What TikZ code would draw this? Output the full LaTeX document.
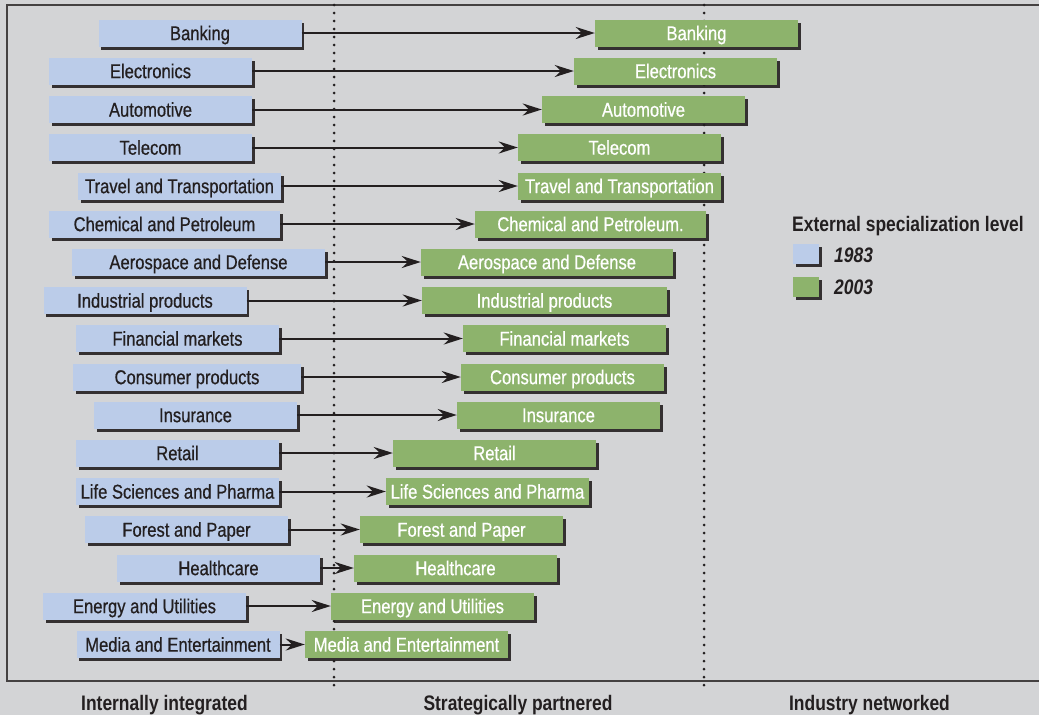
\documentclass[tikz,border=0pt]{standalone}
\usepackage{fontspec}
\setmainfont{Liberation Sans}[FakeStretch=0.83]
\newfontfamily\boxfont{Liberation Sans}[FakeStretch=0.83, FakeBold=0.6]
\usetikzlibrary{arrows.meta,
                graphs,
                shadows}
\definecolor{panel}{HTML}{D3D4D6}
\definecolor{ink}{HTML}{231F20}
\definecolor{oldblue}{HTML}{BBCCE9}
\definecolor{newgreen}{HTML}{8DB36C}
\tikzset{
  box/.style={rectangle, inner sep=0pt, minimum width=203pt, minimum height=27pt,
              text height=14.3pt, text depth=0pt, font=\boxfont\fontsize{20}{22}\selectfont,
              drop shadow={shadow xshift=2.5pt, shadow yshift=-3pt, fill=ink, opacity=0.9}},
  old/.style={box, fill=oldblue, text=ink},
  new/.style={box, fill=newgreen, text=white},
  key/.style={rectangle, inner sep=0pt, minimum width=26pt, minimum height=20pt,
              drop shadow={shadow xshift=2.5pt, shadow yshift=-3pt, fill=ink, opacity=0.9}},
  heading/.style={inner sep=0pt, text=ink, text height=15pt, text depth=0pt,
                  font=\bfseries\fontsize{21}{24}\selectfont},
  divider/.style={ink, line width=3pt, line cap=round, dash pattern=on 0pt off 8pt},
  frame/.style={draw=ink!85, line width=1.2pt}
}

\begin{document}
\begin{tikzpicture}[x=1pt, y=-1pt, >={Stealth[length=19pt,width=12pt,inset=6pt]}]
 \fill[panel] (0,0) rectangle (1039,715);
 \useasboundingbox (0,0) rectangle (1039,715);
 \draw[frame] (1040,5) -- (7,5) -- (7,681) -- (1040,681);
 \draw[divider] (334,5) -- (334,687);
 \draw[divider] (704,5) -- (704,687);

 \graph [no placement, edges={ink, line width=2pt}]
   {
     bank83/Banking [old, at={(200,33)}] -> bank03/Banking [new, at={(696.5,33)}];
     elec83/Electronics [old, at={(150.5,71)}] -> elec03/Electronics [new, at={(675.5,71)}];
     auto83/Automotive [old, at={(150.5,109.5)}] -> auto03/Automotive [new, at={(643.5,109.5)}];
     tele83/Telecom [old, at={(150.5,147.5)}] -> tele03/Telecom [new, at={(619.5,147.5)}];
     trav83/Travel and Transportation [old, at={(179.5,186)}]
       -> trav03/Travel and Transportation [new, at={(619.5,186)}];
     chem83/Chemical and Petroleum [old, minimum width=231pt, at={(164.5,224)}]
       -> chem03/{Chemical and Petroleum.} [new, minimum width=231pt, at={(590.5,224)}];
     aero83/Aerospace and Defense [old, minimum width=253pt, at={(198.5,262)}]
       -> aero03/Aerospace and Defense [new, minimum width=252pt, at={(547,262)}];
     indu83/Industrial products [old, at={(145,300.5)}]
       -> indu03/Industrial products [new, minimum width=245pt, at={(544.5,300.5)}];
     fina83/Financial markets [old, at={(177.5,338.5)}] -> fina03/Financial markets [new, at={(564.5,338.5)}];
     cons83/Consumer products [old, minimum width=228pt, at={(187,377)}]
       -> cons03/Consumer products [new, at={(562.5,377)}];
     insu83/Insurance [old, at={(195.5,415)}] -> insu03/Insurance [new, at={(558.5,415)}];
     reta83/Retail [old, at={(177.5,453)}] -> reta03/Retail [new, at={(494.5,453)}];
     life83/Life Sciences and Pharma [old, at={(177.5,491.5)}]
       -> life03/Life Sciences and Pharma [new, at={(487.5,491.5)}];
     fore83/Forest and Paper [old, at={(186.5,529.5)}] -> fore03/Forest and Paper [new, at={(461.5,529.5)}];
     heal83/Healthcare [old, at={(218.5,568)}] -> heal03/Healthcare [new, at={(455.5,568)}];
     ener83/Energy and Utilities [old, at={(144.5,606)}]
       -> ener03/Energy and Utilities [new, at={(432.5,606)}];
     medi83/Media and Entertainment [old, at={(178,644.5)}]
       -> medi03/Media and Entertainment [new, at={(406.5,644.5)}];
   };

 \node[heading, anchor=west] (legend) at (792,224) {External specialization level};
 \node[key, fill=oldblue] (key83) at (806,254) {};
 \node[key, fill=newgreen] (key03) at (806,286.5) {};
 \node[heading, anchor=west, font=\bfseries\itshape\fontsize{21}{24}\selectfont] (year83) at (834,255) {1983};
 \node[heading, anchor=west, font=\bfseries\itshape\fontsize{21}{24}\selectfont] (year03) at (834,287) {2003};

 \node[heading] (internal) at (164.5,703) {Internally integrated};
 \node[heading] (partner) at (518,703) {Strategically partnered};
 \node[heading] (network) at (869.5,703) {Industry networked};
\end{tikzpicture}
\end{document}
